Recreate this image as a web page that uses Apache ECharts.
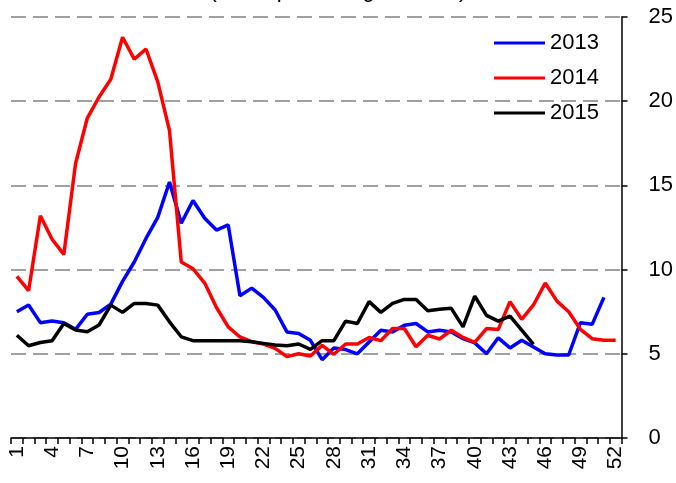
<!DOCTYPE html>
<html>
<head>
<meta charset="utf-8">
<script src="https://cdn.jsdelivr.net/npm/echarts@6/dist/echarts.min.js"></script>
<style>html,body{margin:0;padding:0;background:#fff}#c{width:676px;height:483px}</style>
</head>
<body>
<div id="c"></div>
<script>
var weeks = [];
for (var w = 1; w <= 52; w++) weeks.push(String(w));
var s2013 = [7.5,7.9,6.85,6.95,6.85,6.45,7.35,7.45,7.95,9.3,10.45,11.85,13.1,15.2,12.75,14.1,13.05,12.35,12.65,8.45,8.9,8.35,7.6,6.3,6.2,5.8,4.65,5.35,5.25,5.0,5.7,6.4,6.3,6.7,6.8,6.3,6.4,6.3,5.9,5.65,5.0,5.95,5.35,5.8,5.4,5.0,4.93,4.93,6.85,6.75,8.35,null];
var s2014 = [9.6,8.75,13.2,11.8,10.9,16.3,19.0,20.25,21.3,23.8,22.5,23.1,21.15,18.25,10.45,10.05,9.2,7.75,6.6,6.0,5.72,5.58,5.32,4.83,5.0,4.87,5.5,4.97,5.58,5.58,5.97,5.78,6.5,6.5,5.42,6.1,5.88,6.4,5.97,5.68,6.5,6.45,8.1,7.05,7.9,9.2,8.13,7.5,6.45,5.9,5.8,5.8];
var s2015 = [6.1,5.48,5.67,5.78,6.8,6.41,6.31,6.71,7.89,7.46,7.99,7.99,7.89,6.9,6.01,5.78,5.78,5.78,5.78,5.78,5.72,5.62,5.52,5.48,5.58,5.26,5.78,5.78,6.94,6.8,8.1,7.46,7.99,8.23,8.23,7.56,7.64,7.7,6.6,8.43,7.28,6.94,7.24,6.41,5.56,null,null,null,null,null,null,null];
var seriesNames = ['2013','2014','2015'];
var seriesColors = ['#0000FF','#FF0000','#000000'];
var titleText = '(in the percentage shares)';

var FONT = 'Liberation Sans';
var chart = echarts.init(document.getElementById('c'), null, {renderer: 'canvas'});
var data = [s2013, s2014, s2015];
chart.setOption({
  animation: false,
  backgroundColor: '#ffffff',
  title: {
    text: titleText, left: 'center', top: -25,
    textStyle: {fontFamily: FONT, fontSize: 22, fontWeight: 'normal', color: '#000'}
  },
  legend: {
    orient: 'vertical', left: 489, top: 27,
    icon: 'rect', itemWidth: 51, itemHeight: 3, itemGap: 13,
    textStyle: {fontFamily: FONT, fontSize: 22, color: '#000', lineHeight: 22, padding: [0,0,0,0]},
    data: seriesNames
  },
  grid: {left: 11, right: 50, top: 17, bottom: 45, containLabel: false},
  xAxis: {
    type: 'category', data: weeks, boundaryGap: true,
    axisLine: {lineStyle: {color: '#000', width: 1.5}},
    axisTick: {show: true, interval: 0, length: 6, lineStyle: {color: '#000', width: 1.5}},
    axisLabel: {interval: 2, rotate: 90, margin: 8, fontFamily: FONT, fontSize: 21, color: '#000'},
    splitLine: {show: false}
  },
  yAxis: {
    type: 'value', position: 'right', min: 0, max: 25, interval: 5,
    axisLine: {show: true, lineStyle: {color: '#000', width: 1.5}},
    axisTick: {show: true, length: 6, lineStyle: {color: '#000', width: 1.5}},
    axisLabel: {margin: 27, fontFamily: FONT, fontSize: 22, color: '#000'},
    splitLine: {show: true, lineStyle: {color: '#A0A0A0', width: 2, type: [15, 7]}}
  },
  series: seriesNames.map(function (n, k) {
    return {
      name: n, type: 'line', data: data[k], symbol: 'none', connectNulls: false,
      color: seriesColors[k],
      lineStyle: {color: seriesColors[k], width: 3.5}
    };
  })
});
</script>
</body>
</html>
